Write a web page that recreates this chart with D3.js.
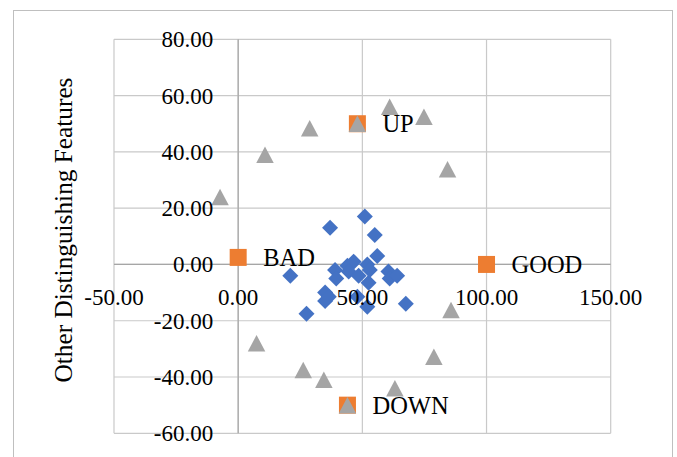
<!DOCTYPE html>
<html>
<head>
<meta charset="utf-8">
<script src="https://cdn.jsdelivr.net/npm/d3@7"></script>
<style>
  body { margin: 0; background: #fff; }
  svg { display: block; }
  text { font-family: "Liberation Serif", "Times New Roman", serif; fill: #000; }
</style>
</head>
<body>
<div id="chart"></div>
<script>
// scatter of features, three series: points, anchors, boundary
const xTicks = [-50, 0, 50, 100, 150];
const yTicks = [-60, -40, -20, 0, 20, 40, 60, 80];

// blue diamonds (x, y)
const pointX = [37, 51, 55, 56, 21, 27.5, 35, 35, 39, 39.5, 44, 46.5, 52, 44.5, 48.5, 52.5, 60.5, 61, 64, 52, 67.5, 48, 53, 36.5];
const pointY = [13, 17, 10.5, 3, -4, -17.5, -10, -13, -2, -5, -0.5, 1, 0, -2.5, -4, -6.5, -2.5, -5, -4, -15, -14, -11.5, -2, -11.5];

// orange squares with labels
const anchorNames = ["BAD", "GOOD", "UP", "DOWN"];
const anchorX = [0, 100, 48, 44];
const anchorY = [2.5, 0, 50, -50];

// grey triangles
const edgeX = [-7.3, 10.8, 28.8, 48, 61, 74.8, 84.3, 85.7, 78.8, 63.1, 44, 7.4, 26.2, 34.5];
const edgeY = [24, 39, 48.4, 50, 56, 52.5, 33.8, -16.2, -32.8, -44, -50, -28, -37.5, -41];

const width = 677, height = 457;
const plot = {left: 114, top: 39.3, right: 610.7, bottom: 433.3};

const svg = d3.select("#chart").append("svg")
  .attr("width", width)
  .attr("height", height);

// outer chart border
svg.append("rect")
  .attr("x", 13.5).attr("y", 10.5)
  .attr("width", 659).attr("height", 470)
  .attr("fill", "none")
  .attr("stroke", "#bfbfbf");

const x = d3.scaleLinear().domain([-50, 150]).range([plot.left, plot.right]);
const y = d3.scaleLinear().domain([-60, 80]).range([plot.bottom, plot.top]);

// gridlines
const grid = svg.append("g").attr("stroke", "#c9c9c9").attr("stroke-width", 1.2);
grid.selectAll(".gx").data(xTicks).join("line")
  .attr("x1", d => x(d)).attr("x2", d => x(d))
  .attr("y1", plot.top).attr("y2", plot.bottom);
grid.selectAll(".gy").data(yTicks).join("line")
  .attr("x1", plot.left).attr("x2", plot.right)
  .attr("y1", d => y(d)).attr("y2", d => y(d));

// axis lines through zero
svg.append("line")
  .attr("x1", x(0)).attr("x2", x(0)).attr("y1", plot.top).attr("y2", plot.bottom)
  .attr("stroke", "#a6a6a6").attr("stroke-width", 1.2);
svg.append("line")
  .attr("x1", plot.left).attr("x2", plot.right).attr("y1", y(0)).attr("y2", y(0))
  .attr("stroke", "#a6a6a6").attr("stroke-width", 1.2);

// diamonds
svg.append("g").selectAll("path")
  .data(d3.zip(pointX, pointY))
  .join("path")
  .attr("d", d3.symbol(d3.symbolSquare, 128)())
  .attr("transform", d => `translate(${x(d[0])},${y(d[1])}) rotate(45)`)
  .attr("fill", "#4472c4");

// squares
svg.append("g").selectAll("rect")
  .data(d3.zip(anchorX, anchorY))
  .join("rect")
  .attr("x", d => x(d[0]) - 8.5).attr("y", d => y(d[1]) - 8.5)
  .attr("width", 17).attr("height", 17)
  .attr("fill", "#ed7d31");

// triangles (bounding box centred on the point)
const tri = (w, h) => `M0,${-h / 2}L${w / 2},${h / 2}L${-w / 2},${h / 2}Z`;
svg.append("g").selectAll("path")
  .data(d3.zip(edgeX, edgeY))
  .join("path")
  .attr("d", tri(17.5, 16.5))
  .attr("transform", d => `translate(${x(d[0])},${y(d[1])})`)
  .attr("fill", "#a5a5a5");

// tick labels
svg.append("g")
  .attr("font-size", 23)
  .attr("text-anchor", "middle")
  .selectAll("text")
  .data(xTicks)
  .join("text")
  .attr("x", d => x(d))
  .attr("y", y(0) + 40.5)
  .text(d => d.toFixed(2));

svg.append("g")
  .attr("font-size", 23)
  .attr("text-anchor", "end")
  .selectAll("text")
  .data(yTicks)
  .join("text")
  .attr("x", x(0) - 25)
  .attr("y", d => y(d) + 8)
  .text(d => d.toFixed(2));

// data labels
svg.append("g")
  .attr("font-size", 24.5)
  .selectAll("text")
  .data(anchorNames)
  .join("text")
  .attr("x", (d, i) => x(anchorX[i]) + 25)
  .attr("y", (d, i) => y(anchorY[i]) + 8.5)
  .text(d => d);

// y axis title
svg.append("text")
  .attr("transform", "translate(72,230) rotate(-90)")
  .attr("text-anchor", "middle")
  .attr("font-size", 25.3)
  .text("Other Distinguishing Features");
</script>
</body>
</html>
